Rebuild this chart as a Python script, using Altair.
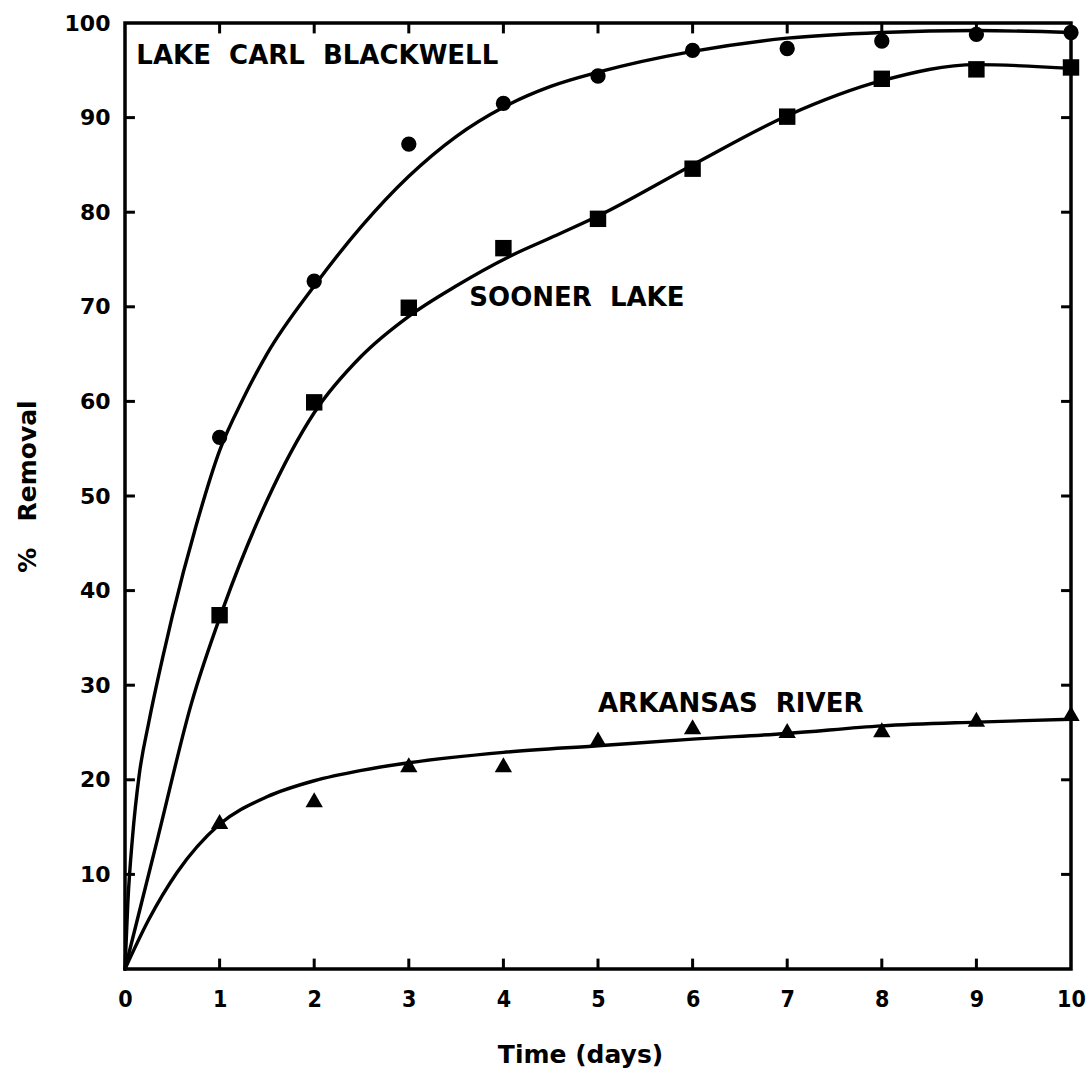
import altair as alt
import pandas as pd

# Measured removal (%) at each sampling day
DAYS = [1, 2, 3, 4, 5, 6, 7, 8, 9, 10]
BLACKWELL = [56.2, 72.7, 87.2, 91.5, 94.4, 97.1, 97.3, 98.1, 98.8, 99.0]
SOONER = [37.4, 59.9, 69.9, 76.2, 79.3, 84.6, 90.1, 94.1, 95.1, 95.3]
ARKANSAS = [15.6, 17.9, 21.6, 21.6, 24.3, 25.6, 25.2, 25.3, 26.4, 27.0]

# Hand-drawn fit curves (knots along each smooth line)
BLACKWELL_FIT_X = [0, 0.03, 0.08, 0.15, 0.25, 0.40, 0.50, 0.75, 1.0, 1.25, 1.5,
                   2.0, 2.5, 3.0, 3.5, 4.0, 4.5, 5.0, 6.0, 7.0, 8.0, 9.0, 10]
BLACKWELL_FIT_Y = [0, 7.0, 14.0, 20.5, 26.0, 33.0, 37.3, 46.8, 54.8, 60.3, 65.0,
                   72.2, 78.5, 83.8, 88.0, 91.1, 93.3, 94.8, 97.0, 98.4, 99.0, 99.2, 99.0]
SOONER_FIT_X = [0, 0.35, 0.70, 1.04, 1.50, 2.0, 2.5, 3.0, 3.50, 4.06, 4.5,
                5, 6, 7, 8, 9, 10]
SOONER_FIT_Y = [0, 14.0, 28.0, 38.2, 49.5, 58.8, 64.8, 69.0, 72.2, 75.3, 77.3,
                79.6, 85.0, 90.2, 93.9, 95.6, 95.2]
ARKANSAS_FIT_X = [0, 0.25, 0.55, 1.0, 1.5, 2, 2.5, 3, 4, 5, 6, 7, 8, 9, 10]
ARKANSAS_FIT_Y = [0, 5.2, 10.2, 15.3, 18.2, 19.9, 21.0, 21.8, 22.9, 23.6, 24.3,
                  24.9, 25.7, 26.1, 26.4]

SITES = ["Lake Carl Blackwell", "Sooner Lake", "Arkansas River"]

# Curve labels drawn inside the plot
LABELS = ["LAKE\u00a0\u00a0CARL\u00a0\u00a0BLACKWELL", "SOONER\u00a0\u00a0LAKE",
          "ARKANSAS\u00a0\u00a0RIVER"]
LABEL_X = [0.12, 3.64, 5.0]
LABEL_Y = [96.5, 70.9, 28.0]

# Axis tick values
X_TICKS = [0, 1, 2, 3, 4, 5, 6, 7, 8, 9, 10]
Y_TICKS = [10, 20, 30, 40, 50, 60, 70, 80, 90, 100]
X_INNER = [1, 2, 3, 4, 5, 6, 7, 8, 9]
Y_INNER = [10, 20, 30, 40, 50, 60, 70, 80, 90]

curves = pd.concat([
    pd.DataFrame({"site": SITES[0], "day": BLACKWELL_FIT_X, "removal": BLACKWELL_FIT_Y}),
    pd.DataFrame({"site": SITES[1], "day": SOONER_FIT_X, "removal": SOONER_FIT_Y}),
    pd.DataFrame({"site": SITES[2], "day": ARKANSAS_FIT_X, "removal": ARKANSAS_FIT_Y}),
])
labels = pd.DataFrame({"label": LABELS, "day": LABEL_X, "removal": LABEL_Y})

# inward tick marks on all four sides of the frame
x_ticks = pd.concat([
    pd.DataFrame({"day": X_INNER, "removal": 0.0, "removal2": 1.1}),
    pd.DataFrame({"day": X_INNER, "removal": 100.0, "removal2": 98.9}),
])
y_ticks = pd.concat([
    pd.DataFrame({"removal": Y_INNER, "day": 0.0, "day2": 0.105}),
    pd.DataFrame({"removal": Y_INNER, "day": 10.0, "day2": 9.895}),
])

x_scale = alt.Scale(domain=[0, 10], nice=False, zero=False)
y_scale = alt.Scale(domain=[0, 100], nice=False, zero=False)

x_axis = alt.Axis(
    values=X_TICKS, format="d", grid=False, domain=False, ticks=False, tickSize=0,
    labelFont="Liberation Sans Narrow, DejaVu Sans Condensed, Liberation Sans",
    labelFontSize=23, labelFontWeight="bold", labelColor="black",
    labelPadding=19, labelFlush=False, labelOverlap=False, labelBound=False,
    titleFont="DejaVu Sans", titleFontSize=25, titleFontWeight="bold",
    titleColor="black", titlePadding=31, titleX=455,
)
y_axis = alt.Axis(
    values=Y_TICKS, format="d", grid=False, domain=False, ticks=False, tickSize=0,
    labelFont="DejaVu Sans", labelFontSize=22, labelFontWeight="bold",
    labelColor="black", labelPadding=15, labelFlush=False, labelOverlap=False,
    labelBound=False,
    titleFont="DejaVu Sans", titleFontSize=25, titleFontWeight="bold",
    titleColor="black", titlePadding=24, titleY=463,
)

X = alt.X("day:Q", scale=x_scale, axis=x_axis, title="Time (days)")
Y = alt.Y("removal:Q", scale=y_scale, axis=y_axis,
          title="%\u00a0\u00a0\u00a0Removal")

lines = alt.Chart(curves).mark_line(
    color="black", strokeWidth=3.4, interpolate="monotone", strokeCap="round",
    strokeJoin="round"
).encode(x=X, y=Y, detail="site:N")


def markers(values, shape, size):
    df = pd.DataFrame({"day": DAYS, "removal": values})
    return alt.Chart(df).mark_point(
        shape=shape, size=size, filled=True, color="black", opacity=1, strokeWidth=0
    ).encode(x=X, y=Y)


pts_blackwell = markers(BLACKWELL, "circle", 235)
pts_sooner = markers(SOONER, "square", 270)
pts_arkansas = markers(ARKANSAS, "triangle-up", 300)

xtick_rules = alt.Chart(x_ticks).mark_rule(color="black", strokeWidth=3).encode(
    x=X, y=Y, y2="removal2:Q"
)
ytick_rules = alt.Chart(y_ticks).mark_rule(color="black", strokeWidth=3).encode(
    x=X, x2="day2:Q", y=Y
)

text = alt.Chart(labels).mark_text(
    align="left", baseline="middle", font="DejaVu Sans", fontSize=26,
    fontWeight="bold", color="black"
).encode(x=X, y=Y, text="label:N")

chart = alt.layer(
    lines, xtick_rules, ytick_rules, pts_blackwell, pts_sooner, pts_arkansas, text
).properties(
    width=946,
    height=946,
    autosize=alt.AutoSizeParams(type="none"),
    padding={"left": 125, "top": 23, "right": 19, "bottom": 102},
    background="white",
).configure_view(
    stroke="black", strokeWidth=3.5
)

chart.save("out.html", embed_options={"renderer": "svg", "actions": False})
